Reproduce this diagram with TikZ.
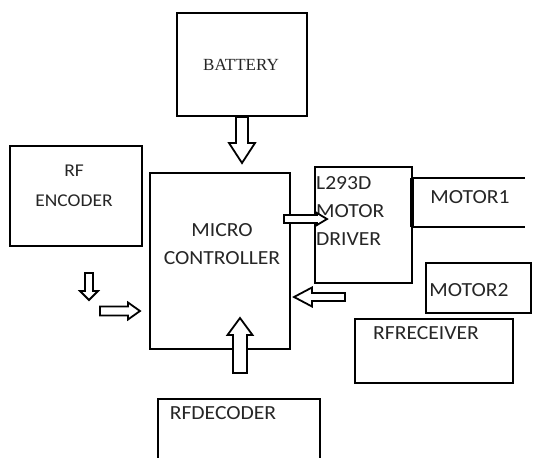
\documentclass[tikz,border=0pt]{standalone}
\usepackage{fontspec}
\setmainfont{Carlito}[FakeStretch=1.08]
\newfontfamily\seriffont{Liberation Serif}
\begin{document}
\begin{tikzpicture}[x=1pt,y=-1pt,
  box/.style={draw, line width=2pt, inner sep=0pt, fill=white},
  lbl/.style={font=\fontsize{20}{28}\selectfont, align=center, inner sep=0pt, text=black!85},
  arrowline/.style={draw, line width=1.8pt, fill=white, line join=miter},
  pics/barrow/.style n args={4}{code={
    \path[arrowline] (0,-#2) -- ({#1-#4},-#2) -- ({#1-#4},-#3) -- (#1,0) -- ({#1-#4},#3) -- ({#1-#4},#2) -- (0,#2) -- cycle;}}]
\useasboundingbox (0,0) rectangle (533,458);
\clip (0,0) rectangle (533,458);
% boxes
\node[box, minimum width=130pt, minimum height=103pt] (battery) at (242,64.5) {};
\node[font=\seriffont\fontsize{17}{18}\selectfont, inner sep=0pt, text=black!85] (batteryt) at (241,65) {BATTERY};
\node[box, minimum width=132pt, minimum height=100pt] (enc) at (76,196) {};
\node[lbl, font=\fontsize{18}{30}\selectfont] (enct) at (74,186) {RF\\ENCODER};
\node[box, minimum width=140pt, minimum height=176pt] (mc) at (220,261) {};
\node[lbl] (mct) at (222,244) {MICRO\\CONTROLLER};
\node[box, minimum width=97pt, minimum height=116pt] (drv) at (363.5,225) {};
\node[lbl, align=left, anchor=north west] (drvt) at (316,176) {L293D\\MOTOR\\DRIVER};
\coordinate (m1a) at (412,178);
\coordinate (m1b) at (525,178);
\coordinate (m1c) at (412,227);
\coordinate (m1d) at (525,227);
\draw[line width=2pt] (m1a) -- (m1b);
\draw[line width=2pt] (m1c) -- (m1d);
\draw[line width=3.5pt] (m1a) -- (m1c);
\node[lbl] (m1) at (470,197) {MOTOR1};
\node[box, minimum width=105pt, minimum height=50pt] (m2) at (478.5,288) {};
\node[lbl] (m2t) at (469,290) {MOTOR2};
\node[box, minimum width=158pt, minimum height=64pt] (rx) at (434,351) {};
\node[lbl] (rxt) at (426,333) {RFRECEIVER};
\node[box, minimum width=162pt, minimum height=90pt] (dec) at (239,444) {};
\node[lbl] (dect) at (223,413) {RFDECODER};
% block arrows
\pic[rotate=-90] at (242,117) {barrow={46}{6}{13}{20}};
\pic[rotate=-90] at (89,273) {barrow={27}{4}{9}{9}};
\pic at (100,311) {barrow={40}{4.5}{8.5}{12}};
\pic at (284,219) {barrow={43}{4}{6}{10}};
\pic[rotate=180] at (345,297) {barrow={51}{4}{9.5}{18}};
\pic[rotate=90] at (240,373) {barrow={55}{7}{12.5}{17}};
\end{tikzpicture}
\end{document}
